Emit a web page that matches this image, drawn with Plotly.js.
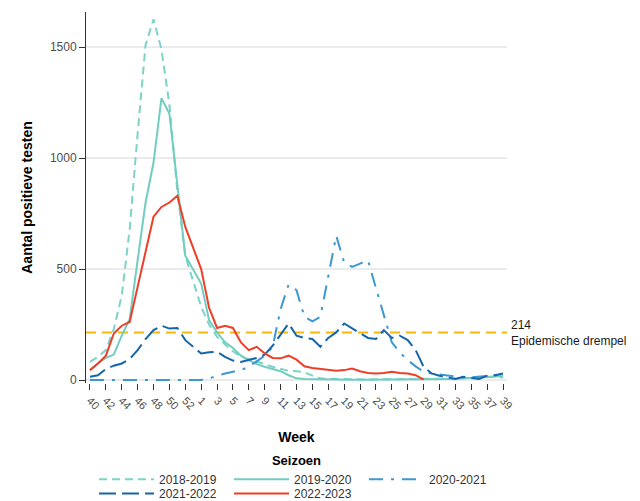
<!DOCTYPE html>
<html>
<head>
<meta charset="utf-8">
<script src="https://cdn.plot.ly/plotly-3.0.1.min.js"></script>
<style>
  html, body { margin: 0; padding: 0; background: #ffffff; }
  #chart { width: 640px; height: 501px; }
</style>
</head>
<body>
<div id="chart"></div>
<script>
// Week categories (season runs from week 40 to week 39 of the next year; week 53 included)
const weeks = ["40","41","42","43","44","45","46","47","48","49","50","51","52","53",
  "1","2","3","4","5","6","7","8","9","10","11","12","13","14","15","16","17","18","19",
  "20","21","22","23","24","25","26","27","28","29","30","31","32","33","34","35","36",
  "37","38","39"];

const tickLabels = ["40","42","44","46","48","50","52","1","3","5","7","9","11","13","15",
  "17","19","21","23","25","27","29","31","33","35","37","39"];

const seasons = ["2018-2019","2019-2020","2020-2021","2021-2022","2022-2023"];

const s2018_2019 = [82,105,135,230,380,680,1110,1510,1625,1490,1240,850,560,null,
  330,250,195,160,130,105,95,85,72,60,50,42,40,35,20,8,6,5,5,4,3,3,4,3,3,4,5,5,5,6,5,6,8,8,10,12,15,15,12];

const s2019_2020 = [45,75,100,115,200,275,540,800,980,1270,1200,880,560,null,
  435,270,215,170,145,110,90,72,60,50,40,22,8,5,4,3,3,3,3,2,2,2,3,3,3,3,3,3,4,4,5,5,6,8,8,10,12,15,18];

const s2020_2021 = [0,0,0,0,1,3,2,1,0,0,0,0,0,0,
  1,8,20,30,38,45,60,85,110,150,320,430,405,285,265,285,470,650,530,510,525,540,415,290,170,125,90,62,38,30,25,20,15,12,12,15,18,22,20];

const s2021_2022 = [15,22,50,65,75,95,135,185,225,245,232,235,180,null,
  120,125,128,105,88,82,90,100,115,155,205,255,200,190,185,150,190,215,255,232,212,190,185,225,190,200,180,135,60,30,20,12,5,15,10,5,20,22,30];

const s2022_2023 = [45,75,110,210,245,262,420,580,736,780,800,830,690,null,
  500,325,235,245,235,170,135,150,120,100,98,110,92,62,55,50,45,42,45,52,40,32,30,32,38,32,30,22,2,
  null,null,null,null,null,null,null,null,null,null];

const threshold = 214;
const thresholdLabel = "Epidemische drempel";

const seriesValues = [s2018_2019, s2019_2020, s2020_2021, s2021_2022, s2022_2023];
const colors = ["#7dd3c7", "#72cdc1", "#3d98cf", "#1765a9", "#ef3e27"];
const dashes = ["8px,5px", "solid", "14px,8px,3px,8px", "17px,6px", "solid"];
const legendRow = ["legend", "legend", "legend", "legend2", "legend2"];

const traces = seasons.map((name, k) => ({
  type: "scatter",
  mode: "lines",
  name: name,
  x: weeks,
  y: seriesValues[k],
  connectgaps: true,
  legend: legendRow[k],
  line: { color: colors[k], width: 2, dash: dashes[k] },
  hoverinfo: "skip"
}));

const font = "Liberation Sans, Arial, sans-serif";

const legendCommon = {
  orientation: "h",
  xref: "paper",
  x: 0.019,
  xanchor: "left",
  yref: "container",
  yanchor: "top",
  entrywidth: 65,
  entrywidthmode: "pixels",
  itemwidth: 55,
  font: { family: font, size: 12, color: "#333333" },
  bgcolor: "rgba(0,0,0,0)"
};

const layout = {
  width: 640,
  height: 501,
  margin: { l: 86, r: 133, t: 12, b: 118 },
  paper_bgcolor: "#ffffff",
  plot_bgcolor: "#ffffff",
  font: { family: font, size: 12, color: "#333333" },
  showlegend: true,
  xaxis: {
    type: "category",
    categoryorder: "array",
    categoryarray: weeks,
    range: [-0.5, 52.5],
    tickmode: "array",
    tickvals: tickLabels,
    ticktext: tickLabels,
    tickangle: 45,
    ticks: "outside",
    ticklen: 6,
    tickcolor: "#333333",
    tickfont: { family: font, size: 11, color: "#4d4d4d" },
    showgrid: false,
    zeroline: false,
    showline: false,
    automargin: false,
    title: { text: "<b>Week</b>", standoff: 21, font: { family: font, size: 14, color: "#000000" } }
  },
  yaxis: {
    range: [-13, 1658],
    tickmode: "array",
    tickvals: [0, 500, 1000, 1500],
    ticktext: ["0", "500", "1000", "1500"],
    ticks: "outside",
    ticklen: 6,
    tickcolor: "#333333",
    tickfont: { family: font, size: 12, color: "#4d4d4d" },
    showgrid: true,
    gridcolor: "#ebebeb",
    gridwidth: 1.5,
    zeroline: false,
    showline: true,
    linecolor: "#333333",
    linewidth: 1,
    automargin: false,
    title: { text: "<b>Aantal positieve testen</b>", standoff: 13, font: { family: font, size: 14, color: "#000000" } }
  },
  legend: Object.assign({}, legendCommon, {
    y: 0.106,
    title: { text: "<b>Seizoen</b>", side: "top center", font: { family: font, size: 13, color: "#000000" } }
  }),
  legend2: Object.assign({}, legendCommon, {
    y: 0.044
  }),
  shapes: [{
    type: "line",
    xref: "paper", x0: 0, x1: 1,
    yref: "y", y0: threshold, y1: threshold,
    line: { color: "#f5b90b", width: 2, dash: "10px,6px" },
    layer: "below"
  }],
  annotations: [{
    xref: "paper", x: 1, xanchor: "left", xshift: 2,
    yref: "y", y: threshold, yanchor: "middle",
    text: threshold + "<br>" + thresholdLabel,
    align: "left",
    showarrow: false,
    font: { family: font, size: 12, color: "#1a1a1a" }
  }]
};

Plotly.newPlot("chart", traces, layout, { staticPlot: true, displayModeBar: false });
</script>
</body>
</html>
